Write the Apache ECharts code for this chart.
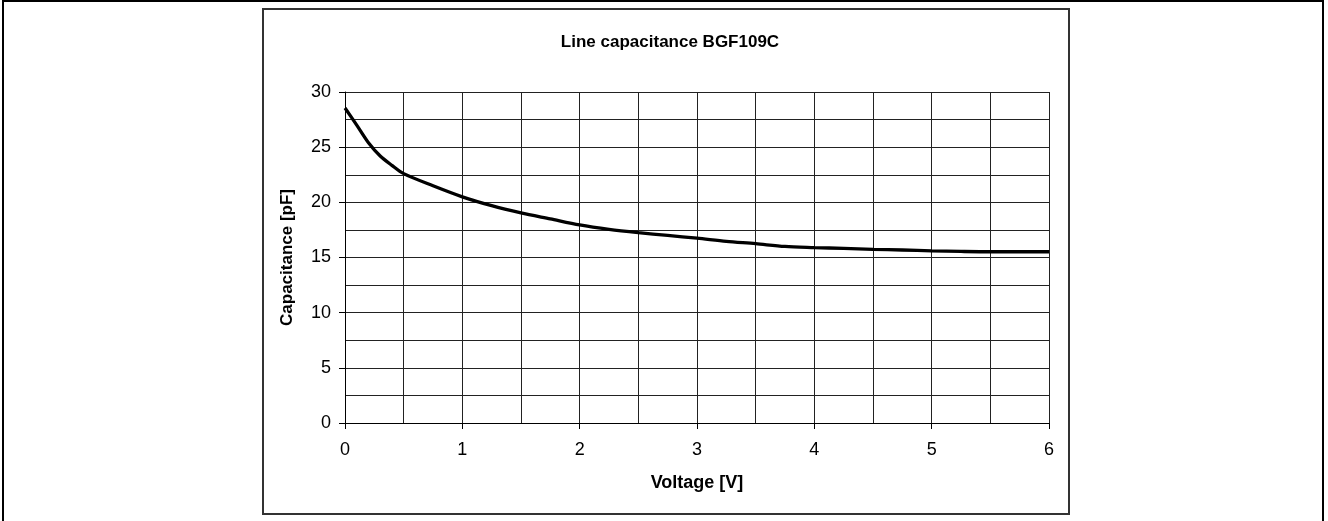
<!DOCTYPE html>
<html>
<head>
<meta charset="utf-8">
<script src="https://cdn.jsdelivr.net/npm/echarts@6/dist/echarts.min.js"></script>
<style>
html,body{margin:0;padding:0;background:#fff;}
#c{width:1328px;height:521px;}
</style>
</head>
<body>
<div id="c"></div>
<script>
const voltage = [0, 0.1, 0.2, 0.3, 0.4, 0.5, 0.75, 1, 1.25, 1.5, 1.75, 2, 2.25, 2.5, 2.75, 3, 3.25, 3.5, 3.75, 4, 4.25, 4.5, 4.75, 5, 5.25, 5.5, 5.75, 6];
const capacitance = [28.55, 27.0, 25.4, 24.2, 23.35, 22.6, 21.5, 20.5, 19.7, 19.05, 18.5, 17.95, 17.55, 17.25, 17.0, 16.75, 16.47, 16.25, 16.0, 15.9, 15.82, 15.74, 15.68, 15.6, 15.55, 15.52, 15.52, 15.52];
const titleText = 'Line capacitance BGF109C';
const xName = 'Voltage [V]';
const yName = 'Capacitance [pF]';

const font = '"Liberation Sans", Arial, sans-serif';
const chart = echarts.init(document.getElementById('c'), null, {renderer: 'canvas'});
chart.setOption({
  animation: false,
  backgroundColor: '#fff',
  title: {
    text: titleText,
    left: 665, textAlign: 'center',
    top: 29,
    textStyle: {fontFamily: font, fontWeight: 'bold', fontSize: 17, color: '#000'}
  },
  graphic: [
    {type: 'rect', shape: {x: 3, y: 1, width: 1320, height: 560}, style: {fill: 'none', stroke: '#000', lineWidth: 2}, silent: true},
    {type: 'rect', shape: {x: 263, y: 9, width: 806, height: 505}, style: {fill: 'none', stroke: '#333', lineWidth: 2}, silent: true}
  ],
  grid: {left: 345, right: 279, top: 92, bottom: 98, containLabel: false},
  xAxis: {
    type: 'value', min: 0, max: 6, interval: 1,
    name: xName, nameLocation: 'middle', nameGap: 51,
    nameTextStyle: {fontFamily: font, fontWeight: 'bold', fontSize: 18, color: '#000'},
    axisLine: {show: true, lineStyle: {color: '#000', width: 1}},
    axisTick: {show: true, inside: false, length: 6, lineStyle: {color: '#000'}},
    axisLabel: {fontFamily: font, fontSize: 18, color: '#000', margin: 18},
    splitLine: {show: true, lineStyle: {color: '#222', width: 1}},
    minorTick: {show: false, splitNumber: 2},
    minorSplitLine: {show: true, lineStyle: {color: '#222', width: 1}}
  },
  yAxis: {
    type: 'value', min: 0, max: 30, interval: 5,
    name: yName, nameLocation: 'middle', nameGap: 49, nameRotate: 90,
    nameTextStyle: {fontFamily: font, fontWeight: 'bold', fontSize: 17, color: '#000'},
    axisLine: {show: true, lineStyle: {color: '#000', width: 1}},
    axisTick: {show: true, inside: false, length: 6, lineStyle: {color: '#000'}},
    axisLabel: {fontFamily: font, fontSize: 18, color: '#000', margin: 14},
    splitLine: {show: true, lineStyle: {color: '#222', width: 1}},
    minorTick: {show: false, splitNumber: 2},
    minorSplitLine: {show: true, lineStyle: {color: '#222', width: 1}}
  },
  series: [{
    type: 'line',
    data: voltage.map((v, i) => [v, capacitance[i]]),
    smooth: 0.3,
    showSymbol: false,
    lineStyle: {color: '#000', width: 3.3}
  }]
});
</script>
</body>
</html>
